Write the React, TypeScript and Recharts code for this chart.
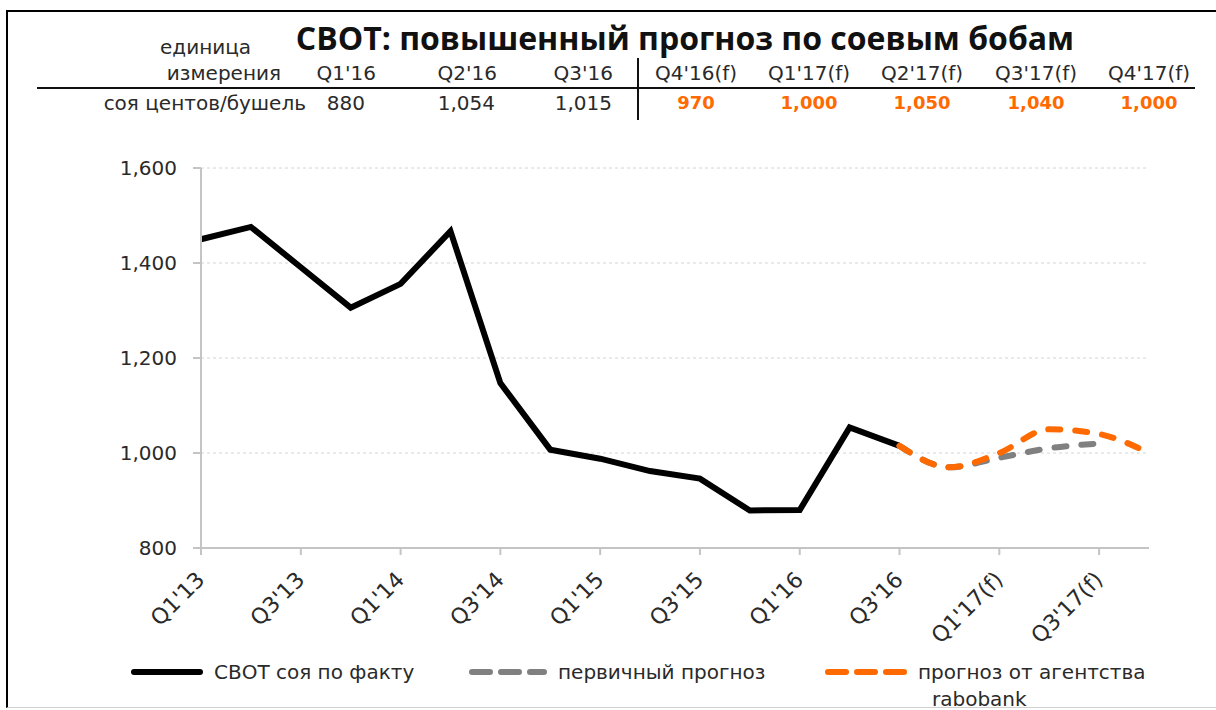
import React from "react";
import { LineChart, Line, XAxis, YAxis, CartesianGrid } from "recharts";

const categories = [
  "Q1'13", "Q2'13", "Q3'13", "Q4'13",
  "Q1'14", "Q2'14", "Q3'14", "Q4'14",
  "Q1'15", "Q2'15", "Q3'15", "Q4'15",
  "Q1'16", "Q2'16", "Q3'16", "Q4'16(f)",
  "Q1'17(f)", "Q2'17(f)", "Q3'17(f)", "Q4'17(f)",
];

const actual = [
  1450, 1476, 1391, 1306, 1356, 1467, 1147, 1007, 988, 962, 946, 879, 880,
  1054, 1015, null, null, null, null, null,
];
const initialForecast = [
  null, null, null, null, null, null, null, null, null, null, null, null,
  null, null, 1015, 970, 990, 1010, 1020, null,
];
const raboForecast = [
  null, null, null, null, null, null, null, null, null, null, null, null,
  null, null, 1015, 970, 1000, 1050, 1040, 1000,
];

const yTicks = [800, 1000, 1200, 1400, 1600];

const tableHeaders = ["Q1'16", "Q2'16", "Q3'16", "Q4'16(f)", "Q1'17(f)", "Q2'17(f)", "Q3'17(f)", "Q4'17(f)"];
const tableValues = ["880", "1,054", "1,015", "970", "1,000", "1,050", "1,040", "1,000"];
const forecastCols = [false, false, false, true, true, true, true, true];

const data = categories.map((q, i) => ({
  q,
  actual: actual[i],
  initial: initialForecast[i],
  rabo: raboForecast[i],
}));

const FONT = "'DejaVu Sans', sans-serif";
const TITLE_FONT = "'Open Sans', sans-serif";
const ORANGE = "#ff6a00";
const GRAY = "#808080";
const TEXT = "#2a2a2a";

// column anchors for the small table (right edge for actual, centre for forecast)
const headerX = [376, 497, 613, 696, 809, 922, 1036, 1149];
const valueX = [365, 495, 612, 696, 809, 922, 1036, 1149];

const XTick = (props: any) => {
  const { x, y, payload } = props;
  const ax = x + 5;
  const ay = y + 24;
  return (
    <text
      x={ax}
      y={ay}
      transform={`rotate(-45, ${ax}, ${ay})`}
      textAnchor="end"
      fontSize={22}
      fontFamily={FONT}
      fill={TEXT}
    >
      {payload.value}
    </text>
  );
};

const cell = (text: string, x: number, y: number, align: string, extra: any = {}) => {
  const style: any = {
    position: "absolute",
    top: y,
    fontFamily: FONT,
    fontSize: 20,
    color: TEXT,
    whiteSpace: "nowrap",
    lineHeight: "24px",
    ...extra,
  };
  if (align === "right") {
    style.right = 1216 - x;
  } else if (align === "center") {
    style.left = x - 100;
    style.width = 200;
    style.textAlign = "center";
  } else {
    style.left = x;
  }
  return (
    <div key={text + x + y} style={style}>
      {text}
    </div>
  );
};

const LegendItem = ({ x, color, dash, width, label, label2 }: any) => (
  <div style={{ position: "absolute", left: x, top: 658, height: 30 }}>
    <svg width={width + 10} height={30} style={{ position: "absolute", left: 0, top: 0 }}>
      <line
        x1={4}
        y1={14}
        x2={width}
        y2={14}
        stroke={color}
        strokeWidth={6}
        strokeLinecap="round"
        strokeDasharray={dash}
      />
    </svg>
    <div
      style={{
        position: "absolute",
        left: width + 14,
        top: 1,
        fontFamily: FONT,
        fontSize: 20,
        color: TEXT,
        whiteSpace: "nowrap",
        lineHeight: "27px",
      }}
    >
      {label}
      {label2 && <div style={{ paddingLeft: 14 }}>{label2}</div>}
    </div>
  </div>
);

export default function App() {
  return (
    <div
      style={{
        position: "absolute",
        left: 0,
        top: 0,
        width: 1216,
        height: 710,
        overflow: "hidden",
        background: "#fff",
      }}
    >
      {/* frame */}
      <div
        style={{
          position: "absolute",
          left: 6,
          top: 10,
          width: 1230,
          height: 695,
          borderLeft: "2px solid #000",
          borderTop: "2px solid #000",
          borderBottom: "1px solid #d0d0d0",
        }}
      />

      <LineChart
        width={1216}
        height={710}
        data={data}
        margin={{ top: 168, right: 67, bottom: 0, left: 0 }}
        style={{ position: "absolute", left: 0, top: 0 }}
      >
        <CartesianGrid vertical={false} stroke="#d4d4d4" strokeDasharray="3 3" />
        <XAxis
          dataKey="q"
          interval={1}
          height={162}
          stroke="#c4c4c4"
          strokeWidth={2}
          tickSize={7}
          tick={<XTick />}
        />
        <YAxis
          width={201}
          domain={[800, 1600]}
          ticks={yTicks}
          stroke="#c4c4c4"
          strokeWidth={2}
          tickSize={8}
          tickMargin={16}
          tick={{ fontSize: 20, fontFamily: FONT, fill: TEXT }}
          tickFormatter={(v: number) => v.toLocaleString("en-US")}
        />
        <Line
          dataKey="actual"
          type="linear"
          stroke="#000"
          strokeWidth={6}
          dot={false}
          isAnimationActive={false}
        />
        <Line
          dataKey="initial"
          type="monotone"
          stroke={GRAY}
          strokeWidth={6}
          strokeDasharray="12 15"
          strokeLinecap="round"
          dot={false}
          isAnimationActive={false}
        />
        <Line
          dataKey="rabo"
          type="monotone"
          stroke={ORANGE}
          strokeWidth={6}
          strokeDasharray="12 15"
          strokeLinecap="round"
          dot={false}
          isAnimationActive={false}
        />
      </LineChart>

      {/* title and small table */}
      <div
        style={{
          position: "absolute",
          left: 0,
          width: 1370,
          top: 18,
          textAlign: "center",
          fontFamily: TITLE_FONT,
          fontWeight: 700,
          fontSize: 32,
          color: "#111",
          lineHeight: "40px",
        }}
      >
        СВОТ: повышенный прогноз по соевым бобам
      </div>
      {cell("единица", 160, 35, "left")}
      {cell("измерения", 281, 61, "right")}
      {cell("соя центов/бушель", 306, 91, "right")}
      {tableHeaders.map((h, i) =>
        cell(h, headerX[i], 61, forecastCols[i] ? "center" : "right")
      )}
      {tableValues.map((v, i) =>
        cell(
          v,
          valueX[i],
          91,
          forecastCols[i] ? "center" : "right",
          forecastCols[i] ? { color: ORANGE, fontWeight: 700, fontSize: 18 } : {}
        )
      )}
      <div style={{ position: "absolute", left: 37, top: 87, width: 1158, height: 2, background: "#111" }} />
      <div style={{ position: "absolute", left: 637, top: 58, width: 2, height: 62, background: "#111" }} />

      {/* legend */}
      <LegendItem x={130} color="#000" width={70} label="СВОТ соя по факту" />
      <LegendItem x={468} color={GRAY} dash="18 11" width={76} label="первичный прогноз" />
      <LegendItem x={824} color={ORANGE} dash="18 11" width={80} label="прогноз от агентства" label2="rabobank" />
    </div>
  );
}
